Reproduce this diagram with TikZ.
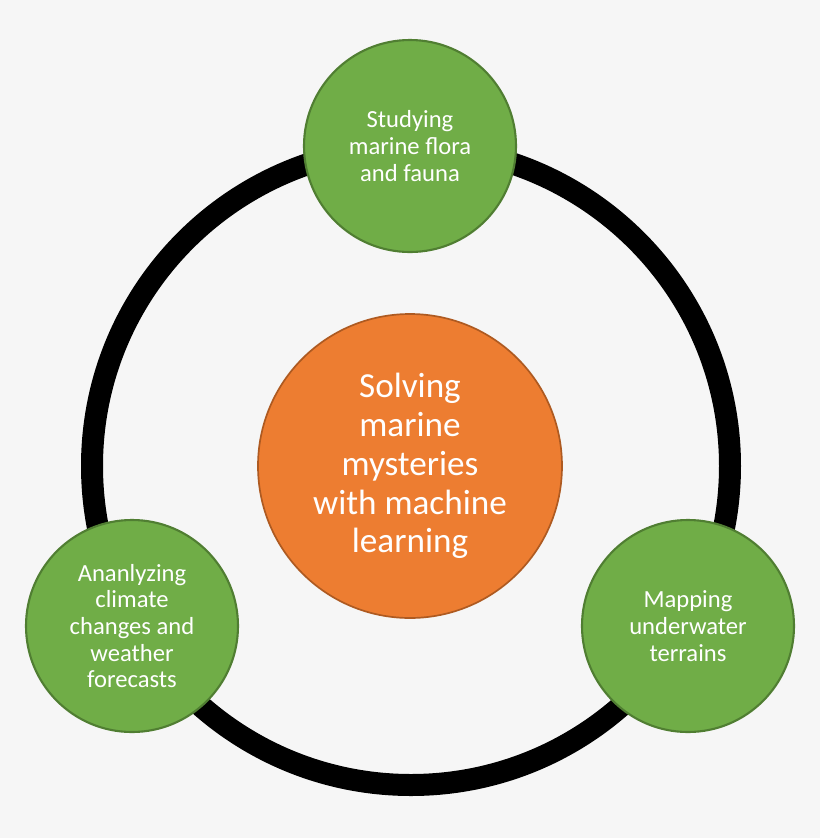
\documentclass[tikz,border=0pt]{standalone}
\usepackage{fontspec}
\setmainfont{Carlito}
\definecolor{bgGray}{HTML}{F6F6F6}
\definecolor{leafGreen}{HTML}{70AD47}
\definecolor{leafEdge}{HTML}{507E32}
\definecolor{coreOrange}{HTML}{ED7D31}
\definecolor{coreEdge}{HTML}{AE5A21}
\begin{document}
\begin{tikzpicture}[x=0.025cm, y=-0.025cm,
    topic/.style={circle, draw=leafEdge, line width=1.5pt, fill=leafGreen, minimum size=212*0.025cm, inner sep=0pt, align=center, text=white, font=\fontsize{17.5}{19}\selectfont},
    core/.style={circle, draw=coreEdge, line width=1.2pt, fill=coreOrange, minimum size=304*0.025cm, inner sep=0pt, align=center, text=white, font=\fontsize{25}{27.6}\selectfont}
]
    \fill[bgGray] (0,0) rectangle (820,838);
    \useasboundingbox (0,0) rectangle (820,838);
    \draw[line width=22*0.025cm] (411,466) circle[radius=319*0.025cm];

    \node[core] (mission) at (410,466) {Solving\\marine\\mysteries\\with machine\\learning};
    \node[topic] (flora) at (410,146) {Studying\\marine flora\\and fauna};
    \node[topic] (climate) at (132,626) {Ananlyzing\\climate\\changes and\\weather\\forecasts};
    \node[topic] (terrain) at (688,626) {Mapping\\underwater\\terrains};
\end{tikzpicture}
\end{document}
